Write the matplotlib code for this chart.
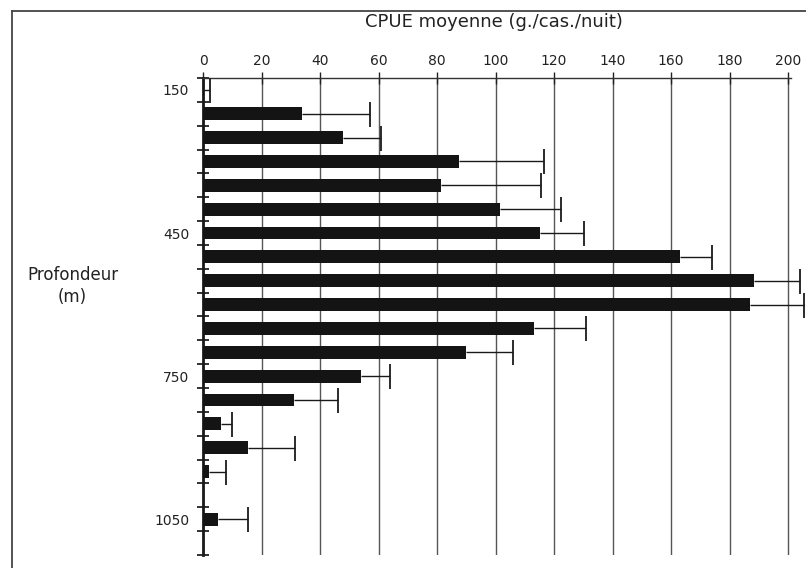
import numpy as np
import matplotlib
matplotlib.use("Agg")
import matplotlib.pyplot as plt
from matplotlib.lines import Line2D

plt.rcParams['font.family'] = ['DejaVu Sans']

# profondeur (m) et CPUE moyenne (g./cas./nuit), erreur positive seulement
depths = [150, 200, 250, 300, 350, 400, 450, 500, 550, 600,
          650, 700, 750, 800, 850, 900, 950, 1000, 1050]
cpue = [0.5, 34, 48, 87.5, 81.5, 101.5, 115.2, 163, 188.5, 187,
        113, 90, 54, 31, 6, 15.4, 2, 0, 5]
err = [2, 23, 13, 29, 34, 21, 15, 11, 15.5, 18.5,
       18, 16, 10, 15, 4, 16, 6, np.nan, 10.4]
x_ticks = [0, 20, 40, 60, 80, 100, 120, 140, 160, 180, 200]
depth_labels = [150, 450, 750, 1050]

fig = plt.figure(figsize=(8.06, 5.68), dpi=100)
ax = fig.add_axes([0.2519, 0.0229, 0.7295, 0.8398])

ax.barh(depths, cpue, height=27, color='#141414', zorder=3)
eb = ax.errorbar(cpue, depths, xerr=[np.zeros(len(err)), err], fmt='none',
                 ecolor='#1a1a1a', elinewidth=1.0, capsize=9, capthick=1.3,
                 zorder=4, clip_on=False)
# pas de trait de fin du côté de la barre
for cap in eb[1]:
    if np.allclose(np.asarray(cap.get_xdata(), dtype=float),
                   np.asarray(cpue, dtype=float)):
        cap.set_visible(False)

ax.set_xlim(0, 201)
ax.set_ylim(1125, 125)

# axe des x en haut, grille verticale
ax.xaxis.tick_top()
ax.set_xticks(x_ticks)
ax.tick_params(axis='x', direction='inout', length=8, width=1,
               labelsize=10, pad=3, colors='#222222')
ax.grid(axis='x', color='#555555', linewidth=1, zorder=1)

# profondeurs: libellés sans trait, traits entre les barres
ax.set_yticks(depth_labels)
ax.set_yticks(np.arange(125, 1126, 50), minor=True)
ax.tick_params(axis='y', which='major', length=0, labelsize=10, pad=10,
               colors='#222222')
ax.tick_params(axis='y', which='minor', direction='inout', length=9,
               width=1.3, color='#222222')

for side in ['right', 'bottom']:
    ax.spines[side].set_visible(False)
ax.spines['left'].set_linewidth(2)
ax.spines['left'].set_color('#1a1a1a')
ax.spines['top'].set_linewidth(1)
ax.spines['top'].set_color('#333333')

fig.text(0.613, 0.962, 'CPUE moyenne (g./cas./nuit)', ha='center',
         va='center', fontsize=13, color='#222222')
fig.text(0.090, 0.516, 'Profondeur', ha='center', va='center',
         fontsize=12, color='#222222')
fig.text(0.090, 0.477, '(m)', ha='center', va='center',
         fontsize=12, color='#222222')

# cadre de la page
fig.add_artist(Line2D([0.0149, 0.0149], [0.0, 0.9806],
                      transform=fig.transFigure, color='#444444', lw=1.3))
fig.add_artist(Line2D([0.0149, 1.0], [0.9806, 0.9806],
                      transform=fig.transFigure, color='#444444', lw=1.3))

fig.savefig('out.png', dpi=100)
